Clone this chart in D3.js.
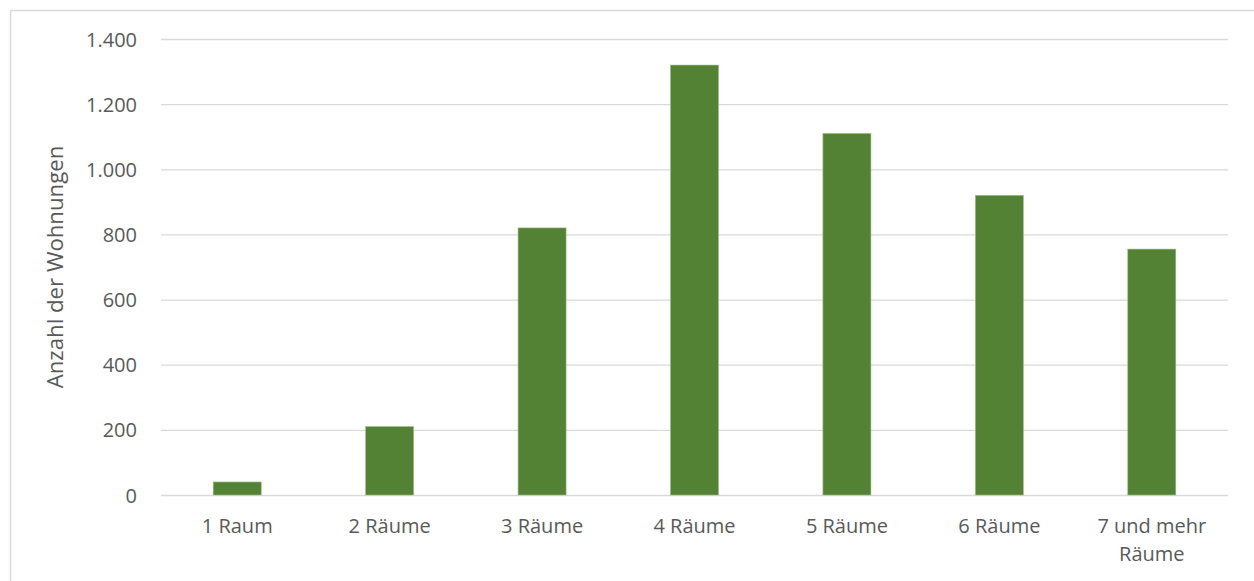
<!DOCTYPE html>
<html>
<head>
<meta charset="utf-8">
<script src="https://cdn.jsdelivr.net/npm/d3@7"></script>
<style>
  html, body { margin: 0; padding: 0; background: #fff; }
  svg { display: block; }
  text { font-family: "Open Sans", "Noto Sans", sans-serif; fill: #595959; }
</style>
</head>
<body>
<svg id="chart" width="1254" height="581"></svg>
<script>
const categories = ["1 Raum", "2 Räume", "3 Räume", "4 Räume", "5 Räume", "6 Räume", "7 und mehr Räume"];
const values = [40, 210, 820, 1320, 1110, 920, 755];
const yTicks = [0, 200, 400, 600, 800, 1000, 1200, 1400];
const yTitle = "Anzahl der Wohnungen";

const svg = d3.select("#chart");
const W = 1254, H = 581;
const margin = { left: 161, right: W - 1228, top: 39, bottom: H - 495 };

// outer chart border
svg.append("rect")
  .attr("x", 10.5).attr("y", 10.5)
  .attr("width", 1260).attr("height", 600)
  .attr("fill", "none").attr("stroke", "#d9d9d9").attr("stroke-width", 1.5);

const x = d3.scaleBand()
  .domain(categories)
  .range([margin.left, W - margin.right])
  .paddingInner(0.685)
  .paddingOuter(0.3425);

const y = d3.scaleLinear()
  .domain([0, 1400])
  .range([H - margin.bottom, margin.top]);

// gridlines
const yAxis = d3.axisLeft(y)
  .tickValues(yTicks)
  .tickSize(-(W - margin.left - margin.right))
  .tickPadding(24)
  .tickFormat(d => d3.format(",")(d).replace(/,/g, "."));

const gy = svg.append("g")
  .attr("transform", `translate(${margin.left},0)`)
  .call(yAxis);
gy.select(".domain").remove();
gy.selectAll(".tick line").attr("stroke", "#d9d9d9").attr("stroke-width", 1.3);
gy.selectAll(".tick text")
  .style("font-size", "20px")
  .attr("dy", "0.35em")
  .attr("fill", "#595959");

// bars
svg.append("g").selectAll("rect")
  .data(categories.map((c, i) => ({ c, v: values[i] })))
  .join("rect")
  .attr("x", d => x(d.c))
  .attr("width", x.bandwidth())
  .attr("y", d => y(d.v))
  .attr("height", d => y(0) - y(d.v))
  .attr("fill", "#548235")
  .attr("stroke", "#9fbb88")
  .attr("stroke-width", 0.6);

// x axis labels
const xAxis = d3.axisBottom(x).tickSize(0).tickPadding(0);
const gx = svg.append("g")
  .attr("transform", `translate(0,${y(0)})`)
  .call(xAxis);
gx.select(".domain").remove();
gx.selectAll(".tick text").each(function(d) {
  const t = d3.select(this);
  t.text(null).attr("y", 0).attr("dy", null).style("font-size", "20px");
  let lines = [d];
  if (d === "7 und mehr Räume") lines = ["7 und mehr", "Räume"];
  lines.forEach((ln, i) => {
    t.append("tspan").attr("x", 0).attr("y", 38 + i * 28.3).text(ln);
  });
});

// y axis title
svg.append("text")
  .attr("transform", `translate(63,${(y(0) + y(1400)) / 2}) rotate(-90)`)
  .attr("text-anchor", "middle")
  .style("font-size", "22.2px")
  .text(yTitle);
</script>
</body>
</html>
